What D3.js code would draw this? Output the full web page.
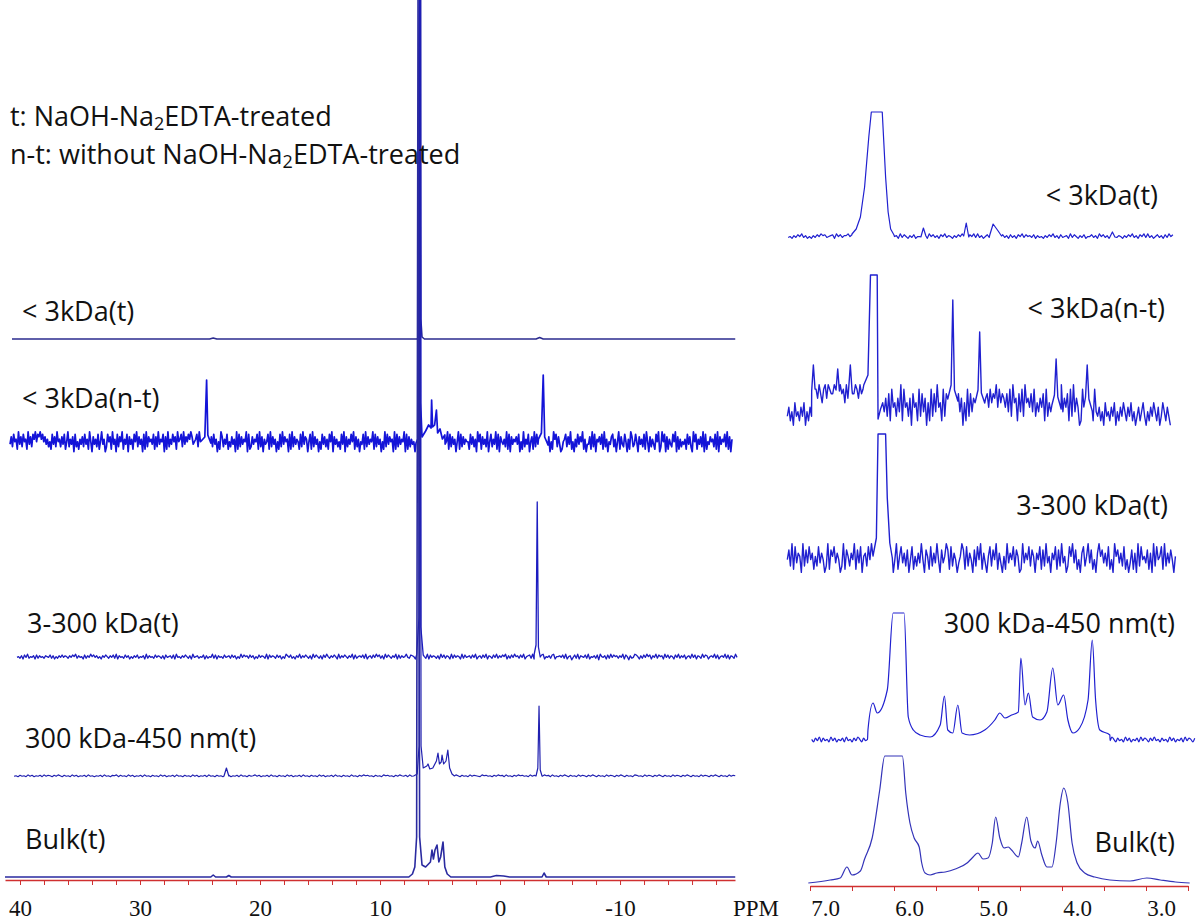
<!DOCTYPE html>
<html>
<head>
<meta charset="utf-8">
<script src="https://cdnjs.cloudflare.com/ajax/libs/d3/7.8.5/d3.min.js"></script>
<style>
    body { margin: 0; background: #fff; }
    svg { display: block; }
</style>
</head>
<body>
<div id="chart"></div>
<script>
///////////////////////////////////////////////////////////////////////////
///////////////////////////////// Data ////////////////////////////////////
///////////////////////////////////////////////////////////////////////////

var sampleNames = ["< 3kDa(t)", "< 3kDa(n-t)", "3-300 kDa(t)", "300 kDa-450 nm(t)", "Bulk(t)"];
var fullTicks = [40, 30, 20, 10, 0, -10];
var zoomTicks = [7.0, 6.0, 5.0, 4.0, 3.0];

//baseline noise of each full-range spectrum, one digit per sample (0-9, 4.5 = baseline)
var fullNoise = [
    "",
    "47385629473856294738" + "69587968574635284739" + "56374825936471835264" + "73846295174638259461" +
    "38572946183759264817" + "46285937461829375648" + "27394658172936485729" + "56839475869745683957" +
    "48362957384615297364" + "82537461928374659182" + "37465829371645829374" + "61528394756182937465" +
    "28394761582937461528" + "47362859174635284917" + "36485927361548293746" + "59283746152938475619" +
    "28374659182736451928" + "37465182937465918273" + "64592837461592837465" + "52847361958274639158" +
    "36492817546392817465" + "74815293648157293846" + "25963847152968374125" + "68374925163847592614" +
    "47293816574829361547" + "83615927438516297348" + "51746382951736428591" + "39581726438591726354" +
    "62847319582647391825" + "47563829174658392716",
    "45362748354627364536" + "54736253647465364758" + "36452736485746352647" + "53647382645374625364" +
    "73546283645374653627" + "45637284536475362845" + "63547263548372645374" + "56374625384756374625" +
    "37465382746537462538" + "64735264836475362847" + "53627485364752836475" + "36482735647382563748" +
    "57362847536482736458" + "43765283746538274653" + "62847365283746528374" + "56374825637482653748" +
    "36475826374856374825" + "67382546378254637825" + "56473825614738265473" + "82546371854627384756" +
    "36482751634875263748" + "57264837562847365274" + "83647256384726538476" + "25648372564837265384",
    "45364537463546374653" + "64753645374635463745" + "35463745365736453746" + "35463745364537463546" +
    "37453645374635463745" + "36453746354637453645" + "74635463745364537463" + "54637453645374635463" +
    "74536453745364756453" + "64537564536475463745" + "36475463564537465364" + "75364537465437564536" +
    "47563745364756453746" + "53647563745364753645" + "37465364753645374653" + "64753645376453746536" +
    "47536453746536475364" + "53746536475364537465",
    ""
];

//peaks of each full-range spectrum: groups of [ppm, intensity]
var fullPeaks = [
    [[[24.2, 0], [23.9, 1], [23.6, 0]],
     [[6.9, 0], [6.78, 3], [6.7, 25], [6.66, 900], [6.6, 20], [6.5, 2], [6.3, 0]],
     [[-3.0, 0], [-3.3, 1.5], [-3.6, 0]]],
    [[[24.9, 2], [24.6, 6], [24.45, 63], [24.35, 8], [24.1, 0]],
     [[7.0, 0], [6.85, 4], [6.72, 60], [6.67, 900], [6.62, 40], [6.5, 6], [6.2, 12], [5.95, 18], [5.75, 15], [5.7, 43], [5.62, 16], [5.45, 18], [5.3, 33], [5.2, 10], [5.0, 14], [4.8, 4], [4.6, 8]],
     [[-3.2, 4], [-3.45, 10], [-3.6, 68], [-3.72, 6], [-4.0, -2]]],
    [[[6.95, 2], [6.75, 40], [6.67, 900], [6.6, 30], [6.4, 2]],
     [[-2.85, 3], [-3.0, 12], [-3.1, 155], [-3.2, 10], [-3.35, 0]]],
    [[[23.0, 0], [22.8, 8], [22.6, 0]],
     [[7.2, 0], [6.9, 2], [6.75, 30], [6.67, 900], [6.58, 30], [6.4, 8], [6.1, 10], [6.0, 12], [5.85, 7], [5.6, 8], [5.3, 15], [5.17, 23], [5.05, 12], [4.9, 14], [4.83, 21], [4.7, 12], [4.5, 15], [4.35, 26], [4.2, 8], [4.0, 2], [3.8, 0]],
     [[-3.0, 0], [-3.15, 8], [-3.25, 70], [-3.35, 6], [-3.5, 0]]],
    [[[24.1, 0], [23.9, 2], [23.7, 0]],
     [[22.8, 0], [22.6, 1.5], [22.4, 0]],
     [[7.6, 0], [7.3, 3], [7.1, 10], [6.95, 40], [6.83, 900], [6.7, 40], [6.5, 12], [6.2, 10], [5.8, 15], [5.67, 27], [5.55, 18], [5.42, 27], [5.25, 32], [5.1, 15], [4.95, 20], [4.75, 35], [4.6, 10], [4.4, 3], [4.1, 0]],
     [[0.8, 0], [0.3, 1.5], [-0.3, 1], [-0.8, 0]],
     [[-3.5, 0], [-3.67, 4], [-3.85, 0]]]
];

//noise of each 7.0-2.5 ppm expansion
var zoomNoise = [
    "45364758463536475867" + "45673857466857463857" + "46353647584637456384" + "75364735574638574637" +
    "58465364758463758484" + "63574637485746374637" + "58475647364536475846" + "37456384753647355746" +
    "38574637584653647584" + "63758484635746374857",
    "241305231425031425" +
    "78697589698779867978596987798697857968" +
    "45454545" +
    "36271845263918452607451827360518273945182736491827360518273656478596748576948576" +
    "4738295617382956473825364718253047182936471829364018253647183" +
    "2413052314250314253142513024135203142531402531420",
    "47291836509273846152" + "83640291758364029175" + "26491738056284917306" + "59183627049158362704" +
    "81526394075182639407" + "35971826403597182640" + "72849163058274916305" + "19364827501936482750" +
    "64817293506481729350" + "28593714068259371406" + "95736281409573628140" + "37160928453716092845" +
    "8192637405",
    "53647364537463546374" + "53647536453746354637" + "46536474536453746354" + "63746536475364537463" +
    "54637453647536453746" + "35463746536474536453" + "74635463746536475364" + "53746354637453647536" +
    "45374635463746536474" + "53645374635463746536",
    ""
];

//peaks of each expansion: groups of [ppm, intensity]
var zoomPeaks = [
    [[[6.5, 3], [6.45, 8], [6.4, 20], [6.35, 50], [6.3, 100], [6.27, 130], [6.2, 300], [6.14, 130], [6.1, 60], [6.07, 25], [6.04, 8], [6.0, 2]],
     [[5.68, 0], [5.65, 9], [5.62, 1]],
     [[5.17, 1], [5.14, 14], [5.11, 0]],
     [[4.86, 2], [4.82, 13], [4.76, 6], [4.72, 1]],
     [[3.43, 0], [3.40, 5], [3.37, 0]]],
    [[[6.98, 14], [6.96, 40], [6.94, 16]],
     [[6.69, 15], [6.67, 36], [6.65, 14]],
     [[6.54, 16], [6.52, 40], [6.50, 15]],
     [[6.36, 20], [6.31, 30], [6.28, 135], [6.24, 300], [6.2, 135], [6.19, -14], [6.16, -4]],
     [[5.36, 6], [5.32, 20], [5.30, 105], [5.28, 15], [5.24, 4]],
     [[5.03, 4], [5.0, 15], [4.98, 73], [4.96, 12], [4.92, 2]],
     [[4.12, 0], [4.09, 10], [4.07, 46], [4.05, 8], [4.01, -4]],
     [[3.74, -2], [3.72, 8], [3.70, 40], [3.68, 6], [3.64, -6]]],
    [[[6.25, 2], [6.21, 20], [6.19, 130], [6.15, 300], [6.1, 130], [6.08, 60], [6.05, 15], [6.02, 0]]],
    [[[6.31, 10], [6.25, 37], [6.20, 27], [6.08, 50], [6.01, 130], [5.95, 300], [5.88, 130], [5.83, 23], [5.77, 10], [5.69, 5], [5.57, 3], [5.45, 15], [5.40, 44], [5.36, 10], [5.30, 7], [5.24, 35], [5.19, 7], [5.10, 5], [4.92, 10], [4.80, 20], [4.74, 27], [4.68, 22], [4.60, 25], [4.52, 28], [4.49, 82], [4.44, 35], [4.40, 47], [4.35, 23], [4.26, 20], [4.18, 28], [4.11, 72], [4.05, 35], [3.98, 45], [3.93, 20], [3.87, 7], [3.79, 12], [3.69, 40], [3.64, 100], [3.60, 40], [3.55, 10], [3.43, 5]]],
    [[[7.02, 0], [6.76, 3], [6.64, 5], [6.56, 16], [6.50, 8], [6.40, 12], [6.35, 24], [6.26, 45], [6.17, 93], [6.11, 135], [5.99, 300], [5.90, 135], [5.86, 90], [5.81, 60], [5.76, 45], [5.70, 36], [5.67, 20], [5.63, 10], [5.57, 8], [5.49, 10], [5.39, 11], [5.27, 14], [5.13, 20], [5.07, 25], [5.00, 30], [4.94, 24], [4.88, 25], [4.83, 40], [4.79, 66], [4.74, 45], [4.69, 35], [4.64, 36], [4.60, 33], [4.52, 26], [4.48, 40], [4.42, 66], [4.37, 42], [4.32, 35], [4.29, 42], [4.24, 28], [4.18, 16], [4.12, 16], [4.07, 40], [4.02, 80], [3.98, 95], [3.93, 80], [3.88, 40], [3.82, 20], [3.73, 10], [3.61, 6], [3.43, 3], [3.19, 2], [2.99, 5], [2.83, 3], [2.65, 1], [2.48, 0]]]
];

///////////////////////////////////////////////////////////////////////////
///////////////////////////////// Layout //////////////////////////////////
///////////////////////////////////////////////////////////////////////////

var width = 1199,
    height = 922;

var fullBase = [339, 443, 657, 776, 877];
var fullSpan = [[40.67, -19.6], [40.83, -19.33], [40.25, -19.75], [40.5, -19.6], [41.25, -19.6]];
var fullAmp = [0, 2.5, 0.8, 0.45, 0];
var fullColor = ["#2b2b8f", "#1414d8", "#1c1cc0", "#2020b0", "#2a2aa0"];
var fullWidth = [1.6, 1.7, 1.3, 1.2, 1.6];
var fullLabel = [[22, 321], [22, 408], [27, 633], [25, 748], [25, 849]];

var zoomBase = [237, 405, 558, 740, 883];
var zoomSpan = [[7.26, 2.68], [7.27, 2.71], [7.27, 2.65], [6.98, 2.42], [7.02, 2.48]];
var zoomAmp = [0.9, 4.5, 3.2, 1.2, 0];
var zoomClip = [125, 130, 124, 127, 127];
var zoomLabel = [[1158, 205], [1165, 318], [1168, 515], [1175, 633], [1175, 852]];

var labelFont = "'Open Sans', 'DejaVu Sans', sans-serif";
var axisFont = "'Liberation Serif', 'Times New Roman', serif";

//SVG container
var svg = d3.select("#chart")
    .append("svg")
    .attr("width", width)
    .attr("height", height);

var xFull = d3.scaleLinear().domain([41.25, -19.58]).range([5, 735]);
var xZoom = d3.scaleLinear().domain([7.0, 2.5]).range([810, 1188]);

//Merge the noise samples with the peak points (noise inside a peak range is dropped)
function buildTrace(noise, amp, span, groups) {
    var idx = d3.scaleLinear().domain([0, Math.max(noise.length - 1, 1)]).range(span);
    var pts = noise.length
        ? noise.split("").map(function(c, i) { return [idx(i), (+c - 4.5) * amp]; })
        : [[span[0], 0], [span[1], 0]];
    groups.forEach(function(g) {
        var hi = d3.max(g, function(p) { return p[0]; }),
            lo = d3.min(g, function(p) { return p[0]; });
        pts = pts.filter(function(p) { return p[0] > hi || p[0] < lo; });
    });
    groups.forEach(function(g) { pts = pts.concat(g); });
    return pts.sort(function(a, b) { return b[0] - a[0]; });
}

///////////////////////////////////////////////////////////////////////////
////////////////////////////// Full spectra ///////////////////////////////
///////////////////////////////////////////////////////////////////////////

sampleNames.forEach(function(name, i) {
    var y = d3.scaleLinear().domain([0, 100]).range([fullBase[i], fullBase[i] - 100]);
    var line = d3.line()
        .x(function(d) { return xFull(d[0]); })
        .y(function(d) { return y(d[1]); });

    svg.append("path")
        .datum(buildTrace(fullNoise[i], fullAmp[i], fullSpan[i], fullPeaks[i]))
        .attr("d", line)
        .style("fill", "none")
        .style("stroke", fullColor[i])
        .style("stroke-width", fullWidth[i])
        .style("stroke-linejoin", "round");

    svg.append("text")
        .attr("x", fullLabel[i][0])
        .attr("y", fullLabel[i][1])
        .style("font-family", labelFont)
        .style("font-size", "27px")
        .style("fill", "#111")
        .text(name);
});

///////////////////////////////////////////////////////////////////////////
///////////////////////////// Expanded spectra ////////////////////////////
///////////////////////////////////////////////////////////////////////////

sampleNames.forEach(function(name, i) {
    //flat tops: the strong peak is cut at the clip level
    var y = d3.scaleLinear().domain([-60, zoomClip[i]])
        .range([zoomBase[i] + 60, zoomBase[i] - zoomClip[i]])
        .clamp(true);
    var line = d3.line()
        .curve(i >= 3 ? d3.curveMonotoneX : d3.curveLinear)
        .x(function(d) { return xZoom(d[0]); })
        .y(function(d) { return y(d[1]); });

    svg.append("path")
        .datum(buildTrace(zoomNoise[i], zoomAmp[i], zoomSpan[i], zoomPeaks[i]))
        .attr("d", line)
        .style("fill", "none")
        .style("stroke", i === 4 ? "#3333b8" : "#2020d0")
        .style("stroke-width", i === 1 || i === 2 ? 1.4 : 1.2)
        .style("stroke-linejoin", "round");

    svg.append("text")
        .attr("x", zoomLabel[i][0])
        .attr("y", zoomLabel[i][1])
        .attr("text-anchor", "end")
        .style("font-family", labelFont)
        .style("font-size", "27px")
        .style("fill", "#111")
        .text(name);
});

///////////////////////////////////////////////////////////////////////////
////////////////////////////////// Axes ///////////////////////////////////
///////////////////////////////////////////////////////////////////////////

var fullAxis = svg.append("g")
    .attr("transform", "translate(0,880)")
    .call(d3.axisBottom(xFull)
        .tickValues(d3.range(40, -19, -2))
        .tickFormat(function(d) { return fullTicks.indexOf(d) > -1 ? String(d) : ""; })
        .tickSize(5)
        .tickSizeOuter(0));

var zoomAxis = svg.append("g")
    .attr("transform", "translate(0,886)")
    .call(d3.axisBottom(xZoom)
        .tickValues(d3.range(0, 10).map(function(k) { return 7.0 - k * 0.5; }))
        .tickFormat(function(d) { return zoomTicks.indexOf(d) > -1 ? d3.format(".1f")(d) : ""; })
        .tickSize(5)
        .tickSizeOuter(0));

[fullAxis, zoomAxis].forEach(function(ax) {
    ax.select(".domain").style("stroke", "#d03030").style("stroke-width", 1.3);
    ax.selectAll(".tick line").style("stroke", "#d03030");
    ax.selectAll(".tick text")
        .style("font-family", axisFont)
        .style("font-size", "23px")
        .style("fill", "#111");
});
fullAxis.selectAll(".tick text").attr("y", 20);
zoomAxis.selectAll(".tick text").attr("y", 14).attr("x", 15);

svg.append("text")
    .attr("x", 733)
    .attr("y", 916)
    .style("font-family", axisFont)
    .style("font-size", "23px")
    .style("fill", "#111")
    .text("PPM");

///////////////////////////////////////////////////////////////////////////
///////////////////////////////// Legend //////////////////////////////////
///////////////////////////////////////////////////////////////////////////

var legendRows = [["t: NaOH-Na", "2", "EDTA-treated"], ["n-t: without NaOH-Na", "2", "EDTA-treated"]];

legendRows.forEach(function(row, i) {
    var t = svg.append("text")
        .attr("x", 10)
        .attr("y", 126 + i * 38)
        .style("font-family", labelFont)
        .style("font-size", "27px")
        .style("fill", "#111");
    t.append("tspan").text(row[0]);
    t.append("tspan").attr("dy", 4).style("font-size", "18px").text(row[1]);
    t.append("tspan").attr("dy", -4).text(row[2]);
});
</script>
</body>
</html>
